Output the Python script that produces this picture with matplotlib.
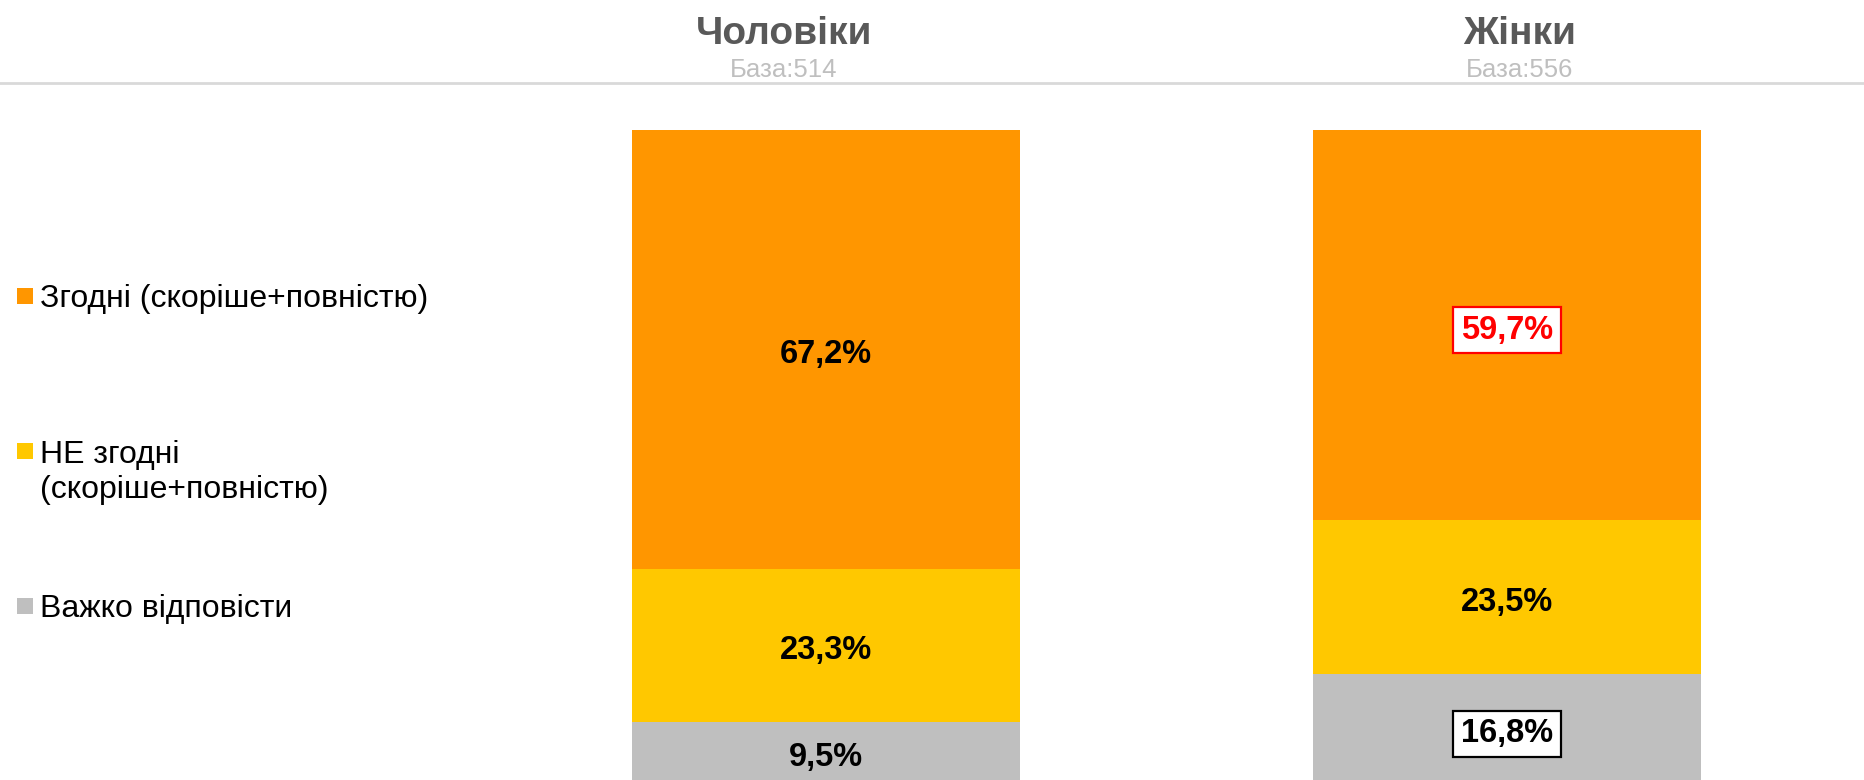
import matplotlib.pyplot as plt
from matplotlib.patches import Rectangle
from matplotlib.lines import Line2D

plt.rcParams['font.family'] = ['Liberation Sans', 'DejaVu Sans']

# data
groups = ["Чоловіки", "Жінки"]
bases = ["База:514", "База:556"]
categories = ["Згодні (скоріше+повністю)", "НЕ згодні\n(скоріше+повністю)", "Важко відповісти"]
colors = ["#FF9600", "#FFC800", "#BFBFBF"]
agree = [67.2, 59.7]
disagree = [23.3, 23.5]
hard = [9.5, 16.8]
# boxed labels: (segment, group) -> text colour
highlights = {(0, 1): "#FF0000", (2, 1): "#000000"}

W, H = 1865, 780
fig = plt.figure(figsize=(W / 100, H / 100), dpi=100)

# axes: bars occupy y 130 .. 784 px (bottom runs slightly off the canvas)
ax = fig.add_axes([485.5 / W, -4 / H, 1362 / W, 654 / H])
ax.set_xlim(-0.5, 1.5)
ax.set_ylim(0, 100)
ax.axis("off")

series = [hard, disagree, agree]
seg_colors = [colors[2], colors[1], colors[0]]
seg_index = [2, 1, 0]
x = list(range(len(groups)))
bottom = [0.0] * len(groups)
for vals, col, si in zip(series, seg_colors, seg_index):
    ax.bar(x, vals, bottom=bottom, width=0.571, color=col, linewidth=0)
    for i, v in enumerate(vals):
        yc = bottom[i] + v / 2
        txt = f"{v:.1f}%".replace(".", ",")
        kw = dict(xytext=(0, -3.5), textcoords="offset points", ha="center", va="center",
                  fontsize=23.5, fontweight="bold")
        if (si, i) in highlights:
            c = highlights[(si, i)]
            ax.annotate(txt, (i, yc), color=c,
                        bbox=dict(boxstyle="square,pad=0.23", fc="white", ec=c, lw=1.6), **kw)
        else:
            ax.annotate(txt, (i, yc), color="black", **kw)
    bottom = [b + v for b, v in zip(bottom, vals)]

# headers
header_x = [784, 1520]
for hx, g, b in zip(header_x, groups, bases):
    fig.text(hx / W, 1 - 44 / H, g, ha="center", va="baseline", fontsize=28,
             fontweight="bold", color="#595959")
    fig.text(hx / W, 1 - 77 / H, b, ha="center", va="baseline", fontsize=18.5, color="#BFBFBF")

fig.add_artist(Line2D([0, 1], [1 - 83 / H, 1 - 83 / H], transform=fig.transFigure,
                      color="#D9D9D9", lw=2))

# legend (manual): square sits at first line, text baseline given for last line
first_baseline = [307, 462, 617]
last_baseline = [307, 498, 617]
for cat, col, yb, yl in zip(categories, colors, first_baseline, last_baseline):
    fig.add_artist(Rectangle((17 / W, 1 - (yb - 3) / H), 16 / W, 16 / H,
                             transform=fig.transFigure, color=col, lw=0))
    fig.text(40 / W, 1 - yl / H, cat, ha="left", va="baseline", fontsize=23,
             color="black", linespacing=1.21)

fig.savefig("out.png", dpi=100)
